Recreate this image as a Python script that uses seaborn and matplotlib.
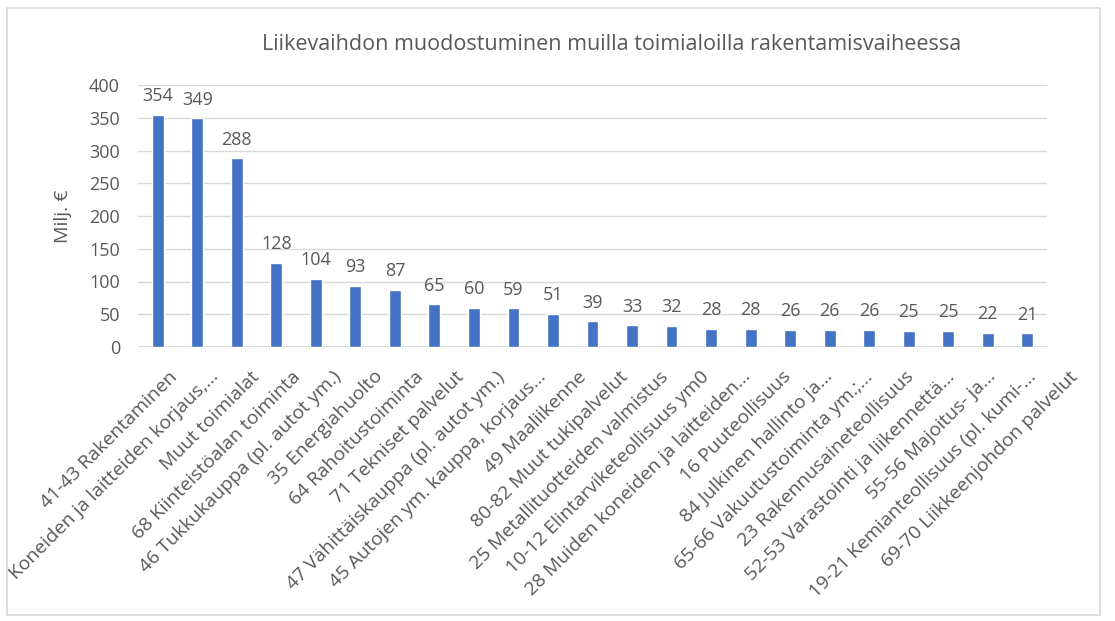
import matplotlib
matplotlib.use("Agg")
import matplotlib.pyplot as plt
import matplotlib.transforms as mtransforms
import seaborn as sns
import pandas as pd
from matplotlib.patches import Rectangle

categories = [
    "41-43 Rakentaminen",
    "Koneiden ja laitteiden korjaus,...",
    "Muut toimialat",
    "68 Kiinteistöalan toiminta",
    "46 Tukkukauppa (pl. autot ym.)",
    "35 Energiahuolto",
    "64 Rahoitustoiminta",
    "71 Tekniset palvelut",
    "47 Vähittäiskauppa (pl. autot ym.)",
    "45 Autojen ym. kauppa, korjaus...",
    "49 Maaliikenne",
    "80-82 Muut tukipalvelut",
    "25 Metallituotteiden valmistus",
    "10-12 Elintarviketeollisuus ym0",
    "28 Muiden koneiden ja laitteiden...",
    "16 Puuteollisuus",
    "84 Julkinen hallinto ja...",
    "65-66 Vakuutustoiminta ym.;...",
    "23 Rakennusaineteollisuus",
    "52-53 Varastointi ja liikennettä...",
    "55-56 Majoitus- ja...",
    "19-21 Kemianteollisuus (pl. kumi-...",
    "69-70 Liikkeenjohdon palvelut",
]
values = [354, 349, 288, 128, 104, 93, 87, 65, 60, 59, 51, 39, 33, 32, 28, 28, 26, 26, 26, 25, 25, 22, 21]
yticks = [0, 50, 100, 150, 200, 250, 300, 350, 400]
title = "Liikevaihdon muodostuminen muilla toimialoilla rakentamisvaiheessa"
ylabel = "Milj. €"

sns.set_theme(style="white")
plt.rcParams["font.family"] = ["Open Sans", "DejaVu Sans"]

TEXT = "#595959"
df = pd.DataFrame({"cat": categories, "val": values})

fig = plt.figure(figsize=(11.15, 6.21), dpi=100)
ax = fig.add_axes([138 / 1115, 1 - 347 / 621, (1047 - 138) / 1115, (347 - 85) / 621])

sns.barplot(data=df, x="cat", y="val", color="#4472C4", width=0.3, ax=ax, saturation=1)

ax.set_ylim(0, 400)
ax.set_xlim(-0.5, len(categories) - 0.5)
ax.set_yticks(yticks)
ax.set_yticklabels([str(t) for t in yticks], fontsize=13, color=TEXT)
ax.yaxis.grid(True, color="#D9D9D9", linewidth=1)
ax.set_axisbelow(True)
for s in ax.spines.values():
    s.set_visible(False)
ax.axhline(0, color="#D9D9D9", linewidth=1.2, zorder=0.5)
ax.tick_params(axis="y", length=0, pad=13)
ax.tick_params(axis="x", length=0, pad=4)
ax.set_xlabel("")
ax.set_ylabel(ylabel, fontsize=14, color=TEXT, labelpad=12)

ax.set_xticks(range(len(categories)))
ax.set_xticklabels(categories, rotation=45, ha="right", rotation_mode="anchor",
                   fontsize=13.9, color=TEXT)
n = len(categories)
for i, lbl in enumerate(ax.get_xticklabels()):
    dx_px = 11 + i * 30 / (n - 1)
    offset = mtransforms.ScaledTranslation(dx_px / 100, -15 / 100, fig.dpi_scale_trans)
    lbl.set_transform(lbl.get_transform() + offset)

for i, v in enumerate(values):
    ax.annotate(str(v), (i, v), xytext=(0, 7), textcoords="offset points",
                ha="center", va="bottom", fontsize=13, color=TEXT)

fig.text(612 / 1115, 1 - 45 / 621, title, ha="center", va="center", fontsize=15.5, color=TEXT)

fig.patches.append(Rectangle((7 / 1115, 6 / 621), 1093 / 1115, 607 / 621,
                             transform=fig.transFigure, fill=False,
                             edgecolor="#D9D9D9", linewidth=1.2))

fig.savefig("out.png", dpi=100)
